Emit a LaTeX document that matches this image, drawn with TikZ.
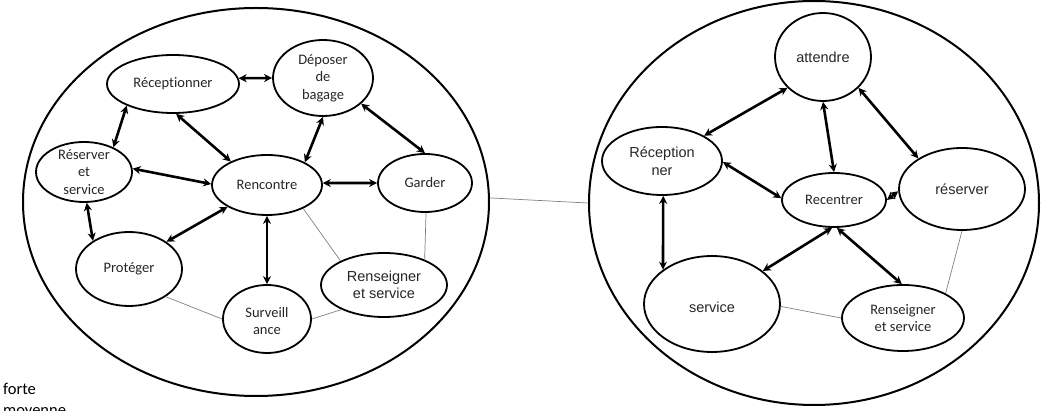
\documentclass[tikz,border=0pt]{standalone}
\usepackage{fontspec}
\setmainfont[Ligatures=NoCommon]{Carlito}
\newfontfamily\arialish{Liberation Sans}
\usetikzlibrary{shapes.geometric,arrows.meta}
\begin{document}
\begin{tikzpicture}[x=1pt,y=-1pt,
  ell/.style={draw, ellipse, line width=1.8pt, inner sep=0pt},
  big/.style={draw, ellipse, line width=2pt, inner sep=0pt},
  lbl/.style={font=\fontsize{14.5}{17.5}\selectfont, align=center, text=black!85},
  albl/.style={font=\arialish\fontsize{14.5}{17.5}\selectfont, align=center, text=black!85},
  dbl/.style={line width=2.6pt, {Stealth[length=8pt,width=8pt]}-{Stealth[length=8pt,width=8pt]}},
  weak/.style={draw=black!50, line width=0.7pt}]
\useasboundingbox (0,0) rectangle (1061,411);

% the two groups
\node[big, minimum width=466, minimum height=388] (L) at (256,202) {};
\node[big, minimum width=450, minimum height=404] (R) at (814,203) {};
\draw[weak] (L.1) -- (R.180);

% left group
\node[ell, minimum width=132, minimum height=58, label={[lbl]center:Réceptionner}] (rcp) at (173,84) {};
\node[ell, minimum width=100, minimum height=76, label={[lbl]center:Déposer\\de\\bagage}] (dep) at (323,78) {};
\node[ell, minimum width=96, minimum height=60, label={[lbl]center:Réserver\\et\\service}] (rsv) at (84,172) {};
\node[ell, minimum width=110, minimum height=60, label={[lbl]center:Rencontre}] (rnc) at (267,185) {};
\node[ell, minimum width=94, minimum height=58, label={[lbl]center:Garder}] (gar) at (425,183) {};
\node[ell, minimum width=106, minimum height=74, label={[lbl]center:Protéger}] (pro) at (129,269) {};
\node[ell, minimum width=88, minimum height=68, label={[lbl, yshift=-2pt]center:Surveill\\ance}] (sur) at (267,319) {};
\node[ell, minimum width=126, minimum height=64, label={[albl]center:Renseigner\\et service}] (rsl) at (384,285) {};

\draw[dbl] (rcp.5) -- (dep.180);
\draw[dbl] (rcp.-155) -- (rsv.40);
\draw[dbl] (rcp.-84) -- (rnc.147);
\draw[dbl] (dep.-90) -- (rnc.31);
\draw[dbl] (dep.-34) -- (gar.90);
\draw[dbl] (rsv.4) -- (rnc.179);
\draw[dbl] (rnc.2) -- (gar.180);
\draw[dbl] (rsv.-85) -- (pro.142);
\draw[dbl] (rnc.-151) -- (pro.36);
\draw[dbl] (rnc.-90) -- (sur.90);
\draw[weak] (rnc.-33) -- (rsl.151);
\draw[weak] (gar.-88) -- (rsl.32);
\draw[weak] (pro.-37) -- (sur.180);
\draw[weak] (sur.0) -- (rsl.210);

% right group
\node[ell, minimum width=96, minimum height=88, label={[albl]center:attendre}] (att) at (823,57) {};
\node[ell, minimum width=120, minimum height=68, label={[albl]center:Réception\\ner}] (rcq) at (662,161) {};
\node[ell, minimum width=104, minimum height=54, label={[lbl]center:Recentrer}] (rec) at (834,200) {};
\node[ell, minimum width=126, minimum height=82, label={[albl]center:réserver}] (rsw) at (962,189) {};
\node[ell, minimum width=136, minimum height=96, label={[albl, yshift=-3pt]center:service}] (svc) at (712,304) {};
\node[ell, minimum width=122, minimum height=66, label={[lbl]center:Renseigner\\et service}] (rsm) at (903,318) {};

\draw[dbl] (att.221) -- (rcq.31);
\draw[dbl] (att.-90) -- (rec.90);
\draw[dbl] (att.-41) -- (rsw.145);
\draw[dbl] (rcq.-1) -- (rec.178);
\draw[dbl] (rsw.182) -- (rec.0);
\draw[dbl] (rcq.-88) -- (svc.145);
\draw[dbl] (rec.-94) -- (svc.33);
\draw[dbl] (rec.-84) -- (rsm.92);
\draw[weak] (rsw.-90) -- (rsm.30);
\draw[weak] (svc.-2) -- (rsm.180);

% legend
\node[font=\fontsize{16.5}{20}\selectfont, anchor=base west, inner sep=0pt] (lf) at (3,395) {forte};
\node[font=\fontsize{16.5}{20}\selectfont, anchor=base west, inner sep=0pt] (lm) at (3,416) {moyenne};
\end{tikzpicture}
\end{document}
